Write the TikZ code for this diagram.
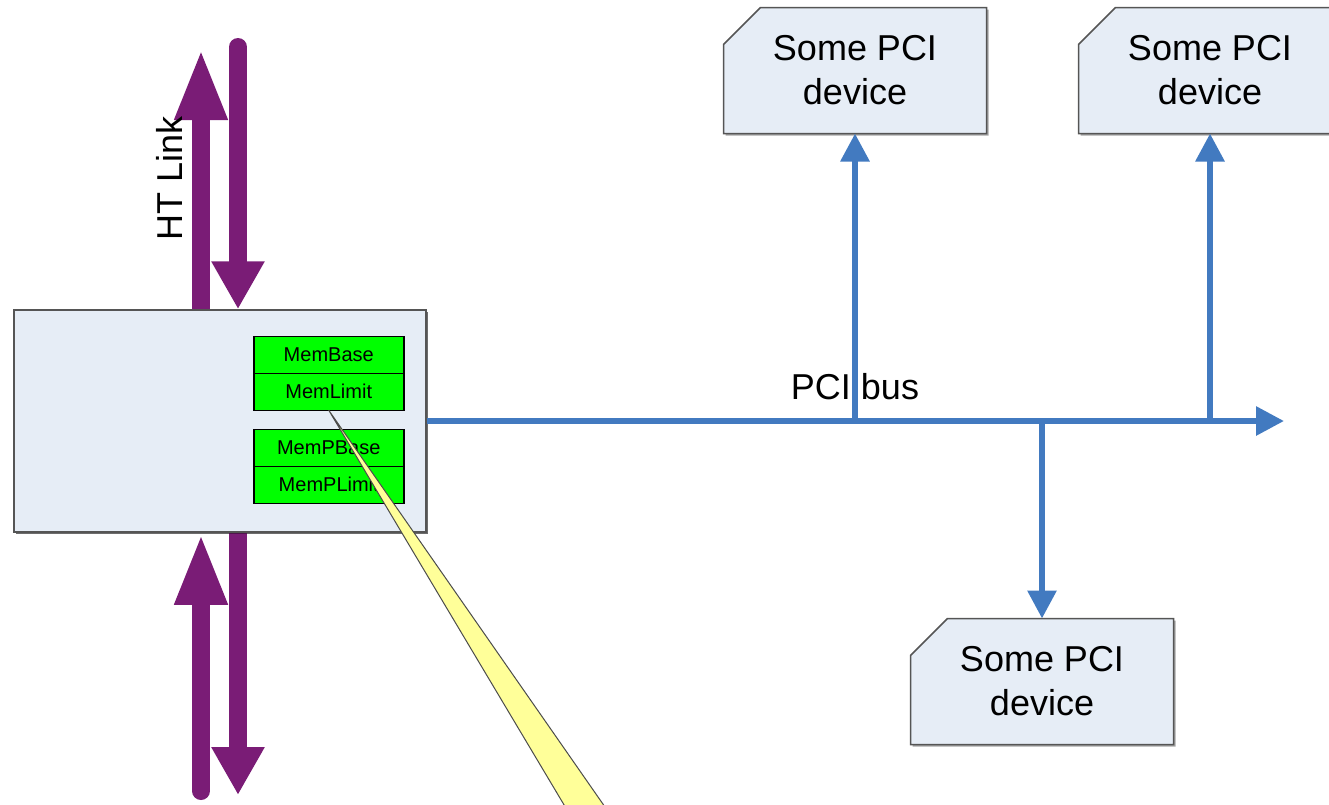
\documentclass[tikz,border=0pt]{standalone}
\usepackage{fontspec}
\setmainfont{Liberation Sans}
\usetikzlibrary{arrows.meta,positioning,backgrounds,shadows}

\definecolor{htpurple}{RGB}{122,28,118}
\definecolor{busblue}{RGB}{66,122,192}
\definecolor{boxblue}{RGB}{230,237,246}
\definecolor{boxgray}{RGB}{85,85,85}
\definecolor{reggreen}{RGB}{0,255,0}
\definecolor{calloutyellow}{RGB}{255,255,153}

\begin{document}
\begin{tikzpicture}[x=1pt,y=-1pt,
  htup/.style={draw=htpurple,line width=18pt,line cap=round,-{Triangle[width=48pt,length=72pt]}},
  htdown/.style={draw=htpurple,line width=18pt,line cap=round,-{Triangle[width=50pt,length=48pt]}},
  pcibus/.style={draw=busblue,line width=6pt,-{Triangle[width=28pt,length=28pt]}},
  lbl/.style={inner sep=0pt,font=\fontsize{36}{44}\selectfont},
  bridgebox/.style={draw=boxgray,line width=1.5pt,fill=boxblue,minimum width=412pt,minimum height=222pt,
    drop shadow={shadow xshift=2pt,shadow yshift=-2pt,fill=black,opacity=.35}},
  reg/.style={draw,line width=1.5pt,fill=reggreen,minimum width=150pt,minimum height=37pt,
    inner sep=0pt,outer sep=0pt,font=\fontsize{20}{24}\selectfont},
  devtext/.style={minimum width=263pt,minimum height=126pt,align=center,inner sep=0pt,outer sep=0pt,
    font=\fontsize{36}{44}\selectfont},
  devbox/.style={draw=boxgray,line width=1.5pt,fill=boxblue,
    drop shadow={shadow xshift=2pt,shadow yshift=-2pt,fill=black,opacity=.35}},
  callout/.style={draw=black!70,line width=1pt,fill=calloutyellow}]
\useasboundingbox (0,0) rectangle (1329,804);
\clip (0,0) rectangle (1329,804);

% HT link arrows
\coordinate (ht1) at (201,48);
\coordinate (ht2) at (238,47);
\coordinate (ht3) at (201,791);
\coordinate (ht4) at (238,795);
\node[bridgebox,draw=none,fill=none,drop shadow={opacity=0}] (bridge) at (220,421) {};
\draw[htup] (bridge.north -| ht1) -- (ht1);
\draw[htdown] (ht2) -- (bridge.north -| ht2);
\draw[htup] (ht3) -- (bridge.south -| ht3);
\draw[htdown] (bridge.south -| ht4) -- (ht4);
\node[lbl,rotate=90] (htlbl) at (169,178) {HT Link};

% bridge with its windows
\node[bridgebox] at (bridge) {};
\node[reg,anchor=north east] (mbase) at ([xshift=-23pt,yshift=-27pt]bridge.north east) {MemBase};
\node[reg,below=0pt of mbase] (mlimit) {MemLimit};
\node[reg,below=19pt of mlimit] (mpbase) {MemPBase};
\node[reg,below=0pt of mpbase] (mplimit) {MemPLimit};

% PCI devices
\foreach \n/\x/\y in {dev1/855/70.5,dev2/1210/70.5,dev3/1042/681.5}{
  \node[devtext] (\n) at (\x,\y) {Some PCI\\device};
  \begin{scope}[on background layer]
    \draw[devbox] ([yshift=-37pt]\n.north west) -- ([xshift=37pt]\n.north west) -- (\n.north east)
      -- (\n.south east) -- (\n.south west) -- cycle;
  \end{scope}
}

% PCI bus
\coordinate (busend) at (1284,421);
\coordinate (tap1) at (dev1.south |- bridge.east);
\coordinate (tap2) at (dev2.south |- bridge.east);
\coordinate (tap3) at (dev3.north |- bridge.east);
\draw[pcibus] (bridge.east) -- (busend);
\draw[pcibus] (tap1) -- (dev1.south);
\draw[pcibus] (tap2) -- (dev2.south);
\draw[pcibus] (tap3) -- (dev3.north);
\node[lbl,above=21pt of tap1] (buslbl) {PCI bus};

% callout
\draw[callout] (mlimit.south) -- (585,840) -- (628,840) -- cycle;
\end{tikzpicture}
\end{document}
